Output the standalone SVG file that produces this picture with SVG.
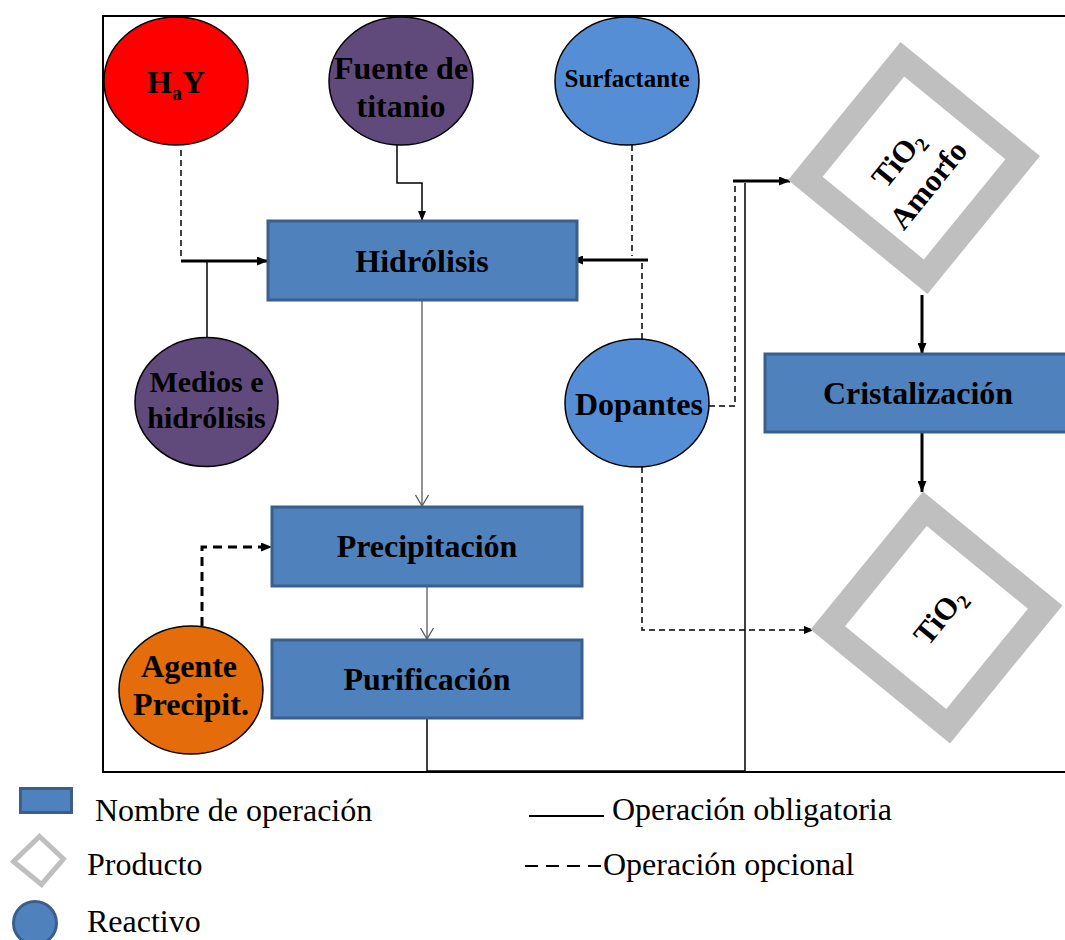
<svg xmlns="http://www.w3.org/2000/svg" width="1065" height="940" viewBox="0 0 1065 940">
<defs>
<style>
.t{font-family:"Liberation Serif","Times New Roman",serif;fill:#000}
.b{font-weight:bold;text-anchor:middle}
.r{font-size:32px}
.box{fill:#4F81BD;stroke:#3A5F8B;stroke-width:3}
.ell{stroke:#000;stroke-width:1.5}
.prod{fill:#BFBFBF;fill-rule:evenodd}
.thin{fill:none;stroke:#000;stroke-width:1.5}
.thick{fill:none;stroke:#000;stroke-width:3}
.dash{fill:none;stroke:#000;stroke-width:1.5;stroke-dasharray:6,4}
.dashb{fill:none;stroke:#000;stroke-width:3;stroke-dasharray:9,6}
.gray{fill:none;stroke:#595959;stroke-width:1.3}
</style>
<marker id="af" viewBox="0 0 11 9" refX="11" refY="4.5" markerWidth="11" markerHeight="9" markerUnits="userSpaceOnUse" orient="auto"><path d="M0,0 L11,4.5 L0,9 Z" fill="#000"/></marker>
<marker id="as" viewBox="0 0 10 8" refX="10" refY="4" markerWidth="10" markerHeight="8" markerUnits="userSpaceOnUse" orient="auto"><path d="M0,0 L10,4 L0,8 Z" fill="#000"/></marker>
<marker id="ao" viewBox="-1 -8 13 16" refX="11" refY="0" markerWidth="13" markerHeight="16" markerUnits="userSpaceOnUse" orient="auto"><path d="M0,-6.5 L11,0 L0,6.5" fill="none" stroke="#595959" stroke-width="1.3"/></marker>
</defs>
<rect width="1065" height="940" fill="#fff"/>
<rect x="103" y="16" width="1000" height="756" fill="none" stroke="#000" stroke-width="2"/>

<g id="connectors">
<path class="dash" d="M181,150 V258"/>
<path class="thick" d="M181,261 H268" marker-end="url(#af)"/>
<path class="thin" d="M207,261 V338"/>
<path class="thin" d="M397,145 V183 H422 V221" marker-end="url(#as)"/>
<path class="dash" d="M632,145 V256"/>
<path class="thick" d="M648,260 H572" marker-end="url(#af)"/>
<path class="dash" d="M642,263 V340"/>
<path class="dash" d="M709,406 H735 V183"/>
<path class="thick" d="M733,181 H790" marker-end="url(#af)"/>
<path class="thin" d="M427,717 V771 H745 V183"/>
<path class="gray" d="M422,300 V506" marker-end="url(#ao)"/>
<path class="gray" d="M427,586 V639" marker-end="url(#ao)"/>
<path class="dashb" d="M202,626 V547 H272" marker-end="url(#af)"/>
<path class="dash" d="M642,467 V630 H814" marker-end="url(#as)"/>
<path class="thick" d="M922,295 V354" marker-end="url(#af)"/>
<path class="thick" d="M922,432 V492" marker-end="url(#af)"/>
</g>

<g id="hay">
<ellipse class="ell" cx="176" cy="81" rx="72" ry="64" fill="#FF0000"/>
<text class="t b" x="176" y="93" font-size="32">H<tspan font-size="20" dy="7">a</tspan><tspan dy="-7">Y</tspan></text>
</g>
<g id="fuente">
<ellipse class="ell" cx="401" cy="81" rx="72" ry="64" fill="#604A7B"/>
<text class="t b" x="401" y="79" font-size="32">Fuente de</text>
<text class="t b" x="401" y="117" font-size="32">titanio</text>
</g>
<g id="surfactante">
<ellipse class="ell" cx="627" cy="81" rx="72" ry="64" fill="#558ED5"/>
<text class="t b" x="627" y="87" font-size="25">Surfactante</text>
</g>
<g id="medios">
<ellipse class="ell" cx="206.5" cy="402" rx="71.5" ry="64.5" fill="#604A7B"/>
<text class="t b" x="206.5" y="392" font-size="30">Medios e</text>
<text class="t b" x="206.5" y="428" font-size="30">hidrólisis</text>
</g>
<g id="dopantes">
<ellipse class="ell" cx="637" cy="403" rx="72" ry="64" fill="#558ED5"/>
<text class="t b" x="639" y="415" font-size="32">Dopantes</text>
</g>
<g id="agente">
<ellipse class="ell" cx="191" cy="690" rx="72" ry="64" fill="#E46C0A"/>
<text class="t b" x="189" y="677" font-size="32">Agente</text>
<text class="t b" x="191" y="715" font-size="32">Precipit.</text>
</g>
<g id="hidrolisis">
<rect class="box" x="268" y="221" width="309" height="79"/>
<text class="t b" x="422" y="272" font-size="32">Hidrólisis</text>
</g>
<g id="precipitacion">
<rect class="box" x="272" y="507" width="310" height="79"/>
<text class="t b" x="427" y="557" font-size="32">Precipitación</text>
</g>
<g id="purificacion">
<rect class="box" x="272" y="640" width="310" height="78"/>
<text class="t b" x="427" y="690" font-size="32">Purificación</text>
</g>
<g id="cristalizacion">
<rect class="box" x="765" y="354" width="320" height="78"/>
<text class="t b" x="918" y="404" font-size="32">Cristalización</text>
</g>
<g id="tio2-amorfo">
<path class="prod" transform="translate(914,168)" d="M-13.5,-126 L126,-12 L13.5,126 L-126,12 Z M-9.8,-91.4 L91.4,-8.7 L9.8,91.4 L-91.4,8.7 Z"/>
<g transform="translate(914,168) rotate(-51)">
<text class="t b" x="-3" y="-8" font-size="31">TiO<tspan font-size="20" dy="6">2</tspan></text>
<text class="t b" x="-4" y="32" font-size="31">Amorfo</text>
</g>
</g>
<g id="tio2">
<path class="prod" transform="translate(936.5,617.5)" d="M-13.5,-126 L126,-12 L13.5,126 L-126,12 Z M-9.8,-91.4 L91.4,-8.7 L9.8,91.4 L-91.4,8.7 Z"/>
<g transform="translate(936.5,617.5) rotate(-51)">
<text class="t b" x="3" y="12" font-size="31">TiO<tspan font-size="20" dy="6">2</tspan></text>
</g>
</g>

<g id="legend">
<rect class="box" x="20.5" y="788.5" width="51" height="24"/>
<text class="t r" x="95" y="821">Nombre de operación</text>
<polygon points="13.5,861.5 39.5,836.5 63.5,859 41.5,884.5" fill="none" stroke="#BFBFBF" stroke-width="5"/>
<text class="t r" x="87" y="875">Producto</text>
<circle cx="35" cy="923" r="21.5" fill="#4F81BD" stroke="#3A5F8B" stroke-width="3"/>
<text class="t r" x="87" y="932">Reactivo</text>
<line x1="529" y1="816" x2="604" y2="816" stroke="#000" stroke-width="2"/>
<text class="t r" x="612" y="820">Operación obligatoria</text>
<line x1="525" y1="866" x2="601" y2="866" stroke="#000" stroke-width="2" stroke-dasharray="13,8"/>
<text class="t r" x="603" y="875">Operación opcional</text>
</g>
</svg>
